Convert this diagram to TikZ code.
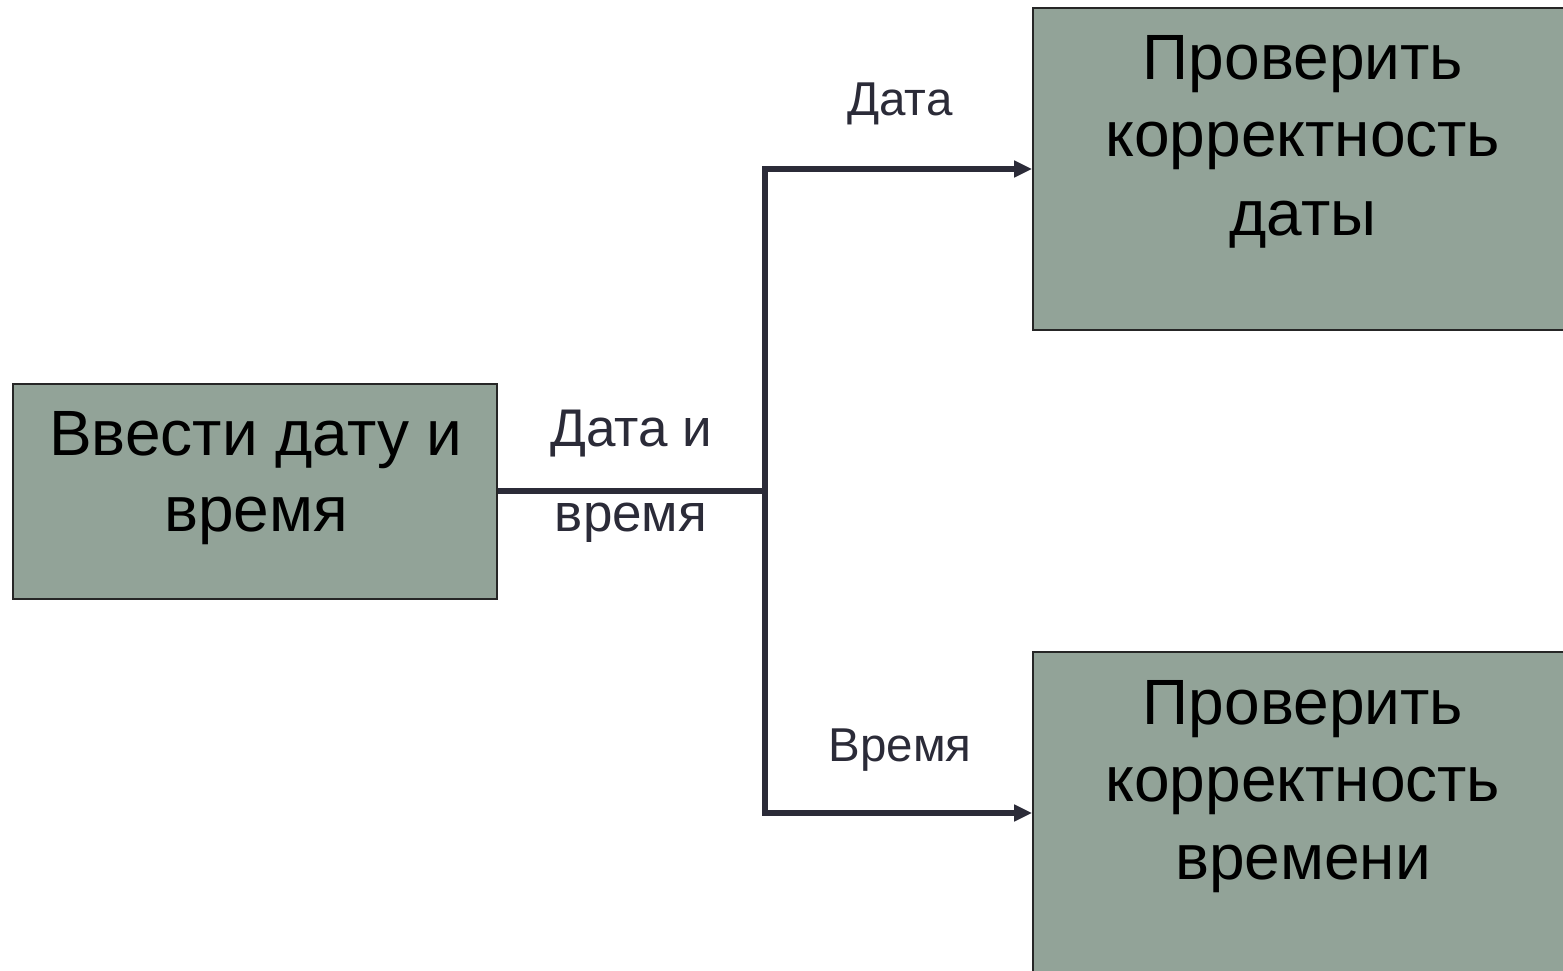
\documentclass[tikz,border=0pt]{standalone}
\usepackage{fontspec}
\setmainfont{Liberation Sans}
\usetikzlibrary{arrows.meta}
\definecolor{boxfill}{HTML}{92A398}
\definecolor{ink}{HTML}{2B2B38}
\begin{document}
\begin{tikzpicture}[x=1pt,y=-1pt,
  procbox/.style={draw=black!85, line width=1.8pt, fill=boxfill, rectangle, inner sep=0pt},
  bigtext/.style={anchor=base, inner sep=0pt, font=\fontsize{64}{76}\selectfont, text=black},
  smalllabel/.style={anchor=base, inner sep=0pt, font=\fontsize{47.5}{55}\selectfont, text=ink},
  midlabel/.style={anchor=base, inner sep=0pt, font=\fontsize{53}{60}\selectfont, text=ink},
  flow/.style={draw=ink, line width=5.5pt},
  flowarrow/.style={flow, -{Triangle[length=18pt, width=16pt]}}
]
\useasboundingbox (0,0) rectangle (1563,971);

% boxes
\node[procbox, minimum width=484pt, minimum height=215pt] (inp) at (255,491.5) {};
\node[procbox, minimum width=540pt, minimum height=322pt] (chkd) at (1303,169) {};
\node[procbox, minimum width=540pt, minimum height=322pt] (chkt) at (1303,813) {};

% box texts
\node[bigtext] (inp1) at (256,455) {Ввести дату и};
\node[bigtext] (inp2) at (256,531) {время};

\node[bigtext] (chkd1) at (1303,80) {Проверить};
\node[bigtext] (chkd2) at (1303,157) {корректность};
\node[bigtext] (chkd3) at (1303,235) {даты};

\node[bigtext] (chkt1) at (1303,724) {Проверить};
\node[bigtext] (chkt2) at (1303,801) {корректность};
\node[bigtext] (chkt3) at (1303,879) {времени};

% junction points
\coordinate (jmid) at (765,491);
\coordinate (jtop) at (765,169);
\coordinate (jbot) at (765,813);

% connectors
\draw[flow] (inp.east |- jmid) -- (jmid);
\draw[flow, line cap=rect] (jtop) -- (jbot);
\draw[flowarrow] (jtop) -- (chkd.west);
\draw[flowarrow] (jbot) -- (chkt.west);

% labels
\node[smalllabel] (lbld) at (900,116) {Дата};
\node[smalllabel] (lblt) at (900,761) {Время};
\node[midlabel] (lbldt1) at (631,446) {Дата и};
\node[midlabel] (lbldt2) at (631,531) {время};
\end{tikzpicture}
\end{document}
